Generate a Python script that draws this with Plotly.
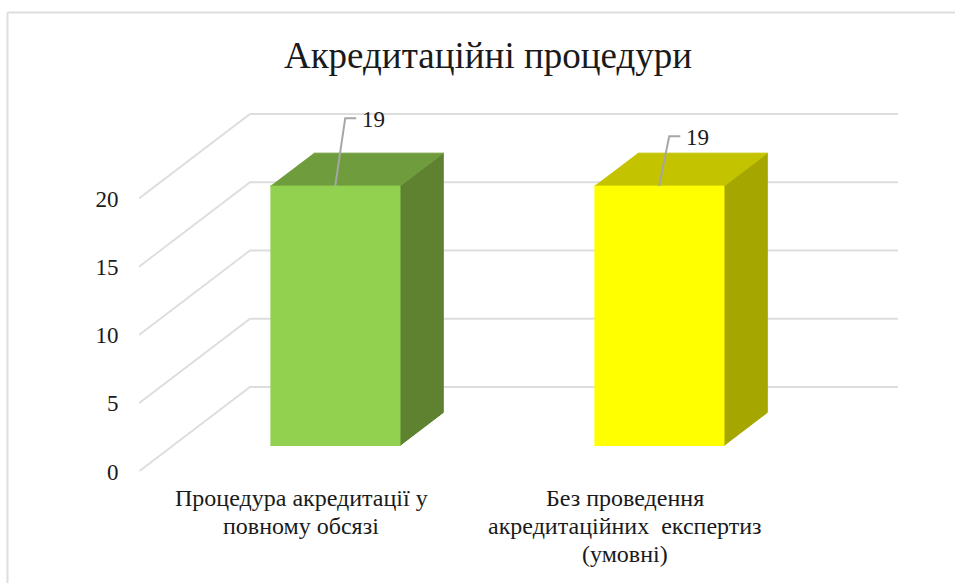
"""3D-style column chart of accreditation procedures, drawn with Plotly scatter polygons."""
import plotly.graph_objects as go

TITLE = "Акредитаційні процедури"
CATEGORIES = [
    ["Процедура акредитації у", "повному обсязі"],
    ["Без проведення", "акредитаційних  експертиз", "(умовні)"],
]
VALUES = [19, 19]
Y_TICKS = [0, 5, 10, 15, 20]

FRONT_COLORS = ["#92D050", "#FFFF00"]
TOP_COLORS = ["#6F9D3D", "#C3C300"]
SIDE_COLORS = ["#5E8230", "#A6A600"]
GRID_COLOR = "#DDDDDD"
LEADER_COLOR = "#A6A6A6"
TEXT_COLOR = "#1A1A1A"
FONT = "Liberation Serif"

# page geometry, pixels
W, H = 955, 583
LEFT_PX, ZERO_PX = 139, 471.5
X_UNIT_PX, Y_UNIT_PX = 324, 13.65

# depth of the fake 3D box in axis units
DEPTH_X = 111 / X_UNIT_PX
DEPTH_Y = 84.5 / Y_UNIT_PX
BAR_DEPTH = (0.308, 0.698)
BAR_HALF = 0.2
# data label leader offsets from bar top centre: (x to elbow, y to elbow, x to end)
LEADERS = [(0.031, 4.98, 0.065), (0.031, 3.66, 0.065)]
LABEL_DROP = 0.2


def project(cat, value, depth):
    return cat + depth * DEPTH_X, value + depth * DEPTH_Y


def polygon(points, color):
    xs = [p[0] for p in points]
    ys = [p[1] for p in points]
    return go.Scatter(x=xs, y=ys, mode="lines", fill="toself", fillcolor=color,
                      line=dict(color=color, width=1), hoverinfo="skip", showlegend=False)


fig = go.Figure()

# side wall and back wall gridlines
for tick in Y_TICKS:
    a = project(-0.5, tick, 0)
    b = project(-0.5, tick, 1)
    c = project(1.5, tick, 1)
    fig.add_trace(go.Scatter(x=[a[0], b[0], c[0]], y=[a[1], b[1], c[1]], mode="lines",
                             line=dict(color=GRID_COLOR, width=1.8), hoverinfo="skip", showlegend=False))

for i, value in enumerate(VALUES):
    d0, d1 = BAR_DEPTH
    l, r = i - BAR_HALF, i + BAR_HALF
    fig.add_trace(polygon([project(r, 0, d0), project(r, 0, d1), project(r, value, d1), project(r, value, d0)], SIDE_COLORS[i]))
    fig.add_trace(polygon([project(l, value, d0), project(r, value, d0), project(r, value, d1), project(l, value, d1)], TOP_COLORS[i]))
    fig.add_trace(polygon([project(l, 0, d0), project(r, 0, d0), project(r, value, d0), project(l, value, d0)], FRONT_COLORS[i]))

    sx, sy = project(i, value, d0)
    ex, ey, ex2 = LEADERS[i]
    fig.add_trace(go.Scatter(
        x=[sx, sx + ex, sx + ex2], y=[sy, sy + ey, sy + ey], mode="lines",
        line=dict(color=LEADER_COLOR, width=2), hoverinfo="skip", showlegend=False,
    ))
    fig.add_trace(go.Scatter(
        x=[sx + ex2], y=[sy + ey - LABEL_DROP],
        mode="text", text=[f" {value}"], textposition="middle right",
        textfont=dict(family=FONT, size=23, color=TEXT_COLOR),
        hoverinfo="skip", showlegend=False,
    ))

# category labels, one annotation per line because the line spacing is tighter than plotly's
annotations = []
for i, lines in enumerate(CATEGORIES):
    for n, line in enumerate(lines):
        annotations.append(dict(
            x=i, y=0, xref="x", yref="y", text=line, showarrow=False,
            xanchor="center", yanchor="middle", yshift=-(26.5 + 28.2 * n),
            font=dict(family=FONT, size=24, color=TEXT_COLOR),
        ))

fig.update_layout(
    width=W,
    height=H,
    margin=dict(l=0, r=0, t=0, b=0),
    paper_bgcolor="white",
    plot_bgcolor="white",
    showlegend=False,
    font=dict(family=FONT, color=TEXT_COLOR),
    title=dict(text=TITLE, x=488 / W, xanchor="center", xref="paper",
               y=1 - 55.5 / H, yanchor="middle", yref="container",
               font=dict(family=FONT, size=37, color=TEXT_COLOR)),
    annotations=annotations,
    xaxis=dict(
        automargin=False,
        domain=[LEFT_PX / W, 1],
        range=[-0.5, (W - LEFT_PX) / X_UNIT_PX - 0.5],
        showticklabels=False,
        ticks="",
        showgrid=False,
        zeroline=False,
        showline=False,
        fixedrange=True,
    ),
    yaxis=dict(
        automargin=False,
        domain=[(H - ZERO_PX) / H, 1],
        range=[0, ZERO_PX / Y_UNIT_PX],
        tickmode="array",
        tickvals=Y_TICKS,
        tickfont=dict(family=FONT, size=23, color=TEXT_COLOR),
        ticks="outside",
        ticklen=15,
        tickcolor="rgba(0,0,0,0)",
        showgrid=False,
        zeroline=False,
        showline=False,
        fixedrange=True,
    ),
    shapes=[
        dict(type="line", xref="paper", yref="paper", x0=7.5 / W, x1=7.5 / W, y0=0, y1=1 - 12.5 / H,
             line=dict(color=GRID_COLOR, width=2), layer="below"),
        dict(type="line", xref="paper", yref="paper", x0=7.5 / W, x1=1, y0=1 - 12.5 / H, y1=1 - 12.5 / H,
             line=dict(color=GRID_COLOR, width=2), layer="below"),
    ],
)

fig.write_html("out.html", config=dict(displayModeBar=False),
               post_script="document.body.style.margin='0';")
